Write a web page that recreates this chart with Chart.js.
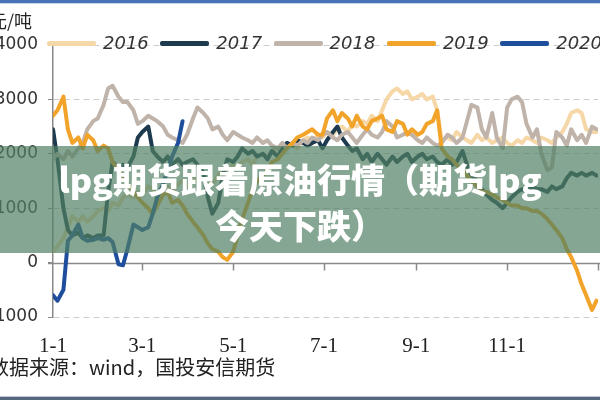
<!DOCTYPE html>
<html><head><meta charset="utf-8">
<script src="https://cdn.jsdelivr.net/npm/chart.js@4.4.1/dist/chart.umd.min.js"></script>
<style>
html,body{margin:0;padding:0;background:#fff;}
#wrap{position:relative;width:600px;height:400px;overflow:hidden;background:#fff;}
#cv{position:absolute;left:-20px;top:0;}
.bar{position:absolute;left:0;width:600px;}
#unit{position:absolute;left:-11px;top:9px;font:18px 'Noto Sans CJK SC';color:#222;line-height:22px;white-space:nowrap;}
.leg{position:absolute;top:31px;height:24px;}
.leg .ln{position:absolute;left:0;top:10px;width:49px;height:5px;border-radius:2px;}
.leg .tx{position:absolute;left:56px;top:0;font:italic 18px 'DejaVu Sans';line-height:24px;color:#333;white-space:nowrap;}
#banner{position:absolute;left:0;top:146px;width:600px;height:107px;background:rgba(80,128,100,0.7);color:#fff;font:900 34px 'Noto Sans CJK SC';line-height:46px;text-align:center;padding-top:10px;box-sizing:border-box;white-space:nowrap;}
#src{position:absolute;left:-11px;top:355px;font:20px 'Noto Sans CJK SC';color:#222;line-height:24px;white-space:nowrap;}
</style></head>
<body>
<div id="wrap">
<canvas id="cv" width="640" height="400"></canvas>
<div class="bar" style="top:0;height:3px;background:#4a72b6"></div>
<div class="bar" style="top:3px;height:1px;background:#c9d6ec"></div>
<div class="bar" style="top:396px;height:1px;background:#c0cad6"></div>
<div class="bar" style="top:397px;height:3px;background:#55687e"></div>
<div id="unit">元/吨</div>
<div id="legend"></div>
<div id="banner">lpg期货跟着原油行情（期货lpg<br>今天下跌）</div>
<div id="src">数据来源：wind，国投安信期货</div>
</div>
<script>
// day of year (leap-year basis) for each sample
const days = [0,3,7,10,13,17,20,23,27,30,
34,37,40,44,47,50,54,57,60,64,
67,70,74,77,80,84,87,90,94,97,
101,104,107,111,114,117,121,124,127,131,
134,137,141,144,147,151,154,157,161,164,
168,171,174,178,181,184,188,191,194,198,
201,204,208,211,214,218,221,224,228,231,
235,238,241,245,248,251,255,258,261,265,
268,271,275,278,281,285,288,291,295,298,
302,305,308,312,315,318,322,325,328,332,
335,338,342,345,348,352,355,358,362,365];

const seriesNames = ['2016','2017','2018','2019','2020'];

const v2016 = [200,300,450,650,850,750,850,750,850,950,
1000,950,1100,1050,1200,1250,1200,1300,1250,1400,
1350,1250,1350,1400,1300,1450,1500,1400,1550,1500,
1600,1500,1450,1600,1700,1650,1800,1750,1850,1900,
1800,1950,2000,1900,2050,2100,2000,2150,2200,2100,
2250,2300,2200,2350,2300,2400,2350,2450,2500,2400,
2550,2500,2600,2550,2700,2600,2800,3000,3150,3200,
3100,3150,3000,3050,3100,3000,3050,2800,2250,2300,
2250,2400,2300,2250,2200,2350,2250,2300,2200,2250,
2300,2200,2150,2250,2200,2300,2250,2200,2300,2250,
2200,2300,2400,2550,2750,2800,2750,2450,2400,2400];

const v2017 = [2450,1900,1000,600,500,550,450,500,450,500,
500,1300,1850,1750,1800,1750,1950,2300,2400,2500,
2050,1950,1850,1950,1800,1900,1800,1850,1900,1800,
1650,1200,900,1100,1600,1900,1850,1950,2100,2000,
2050,1950,2000,1900,2050,1950,2100,2200,2150,2250,
2200,2150,2200,2250,2100,2250,2400,2500,2300,2150,
2050,2100,1900,2000,1850,2000,1900,1800,1950,1850,
1950,2000,1850,1950,2000,1900,1950,1850,1800,1900,
1800,1850,2050,1800,1600,1500,1350,1250,1150,1100,
1000,1100,1200,1300,1350,1300,1400,1350,1350,1300,
1400,1350,1400,1550,1650,1600,1650,1600,1650,1600];

const v2018 = [1900,2000,1900,2050,1950,2100,2200,2450,2600,2650,
2900,3200,3250,3050,2950,2950,2800,2550,2600,2700,
2650,2600,2500,2350,2300,2250,2200,2350,2650,2850,
2750,2650,2450,2500,2350,2250,2400,2350,2300,2250,
2200,2300,2200,2250,2150,2100,2200,2100,2200,2150,
2250,2200,2300,2250,2350,2400,2300,2250,2350,2400,
2300,2200,2350,2450,2350,2300,2400,2600,2500,2300,
2350,2400,2350,2250,2200,2300,2200,2150,2200,2350,
2300,2200,2300,2600,2900,2850,2450,2300,2750,2300,
2100,2850,3000,3050,2950,2550,2300,2450,2000,1700,
1750,2400,2300,2150,2450,2250,2350,2200,2500,2450];

const v2019 = [2700,2800,3050,2450,2200,2300,2100,2350,2250,2050,
2150,2100,1850,1700,1550,1450,1300,1200,1100,1000,
900,1050,1250,1300,1100,1150,1050,900,750,650,
500,350,250,200,100,50,200,500,800,1100,
1350,1500,1600,1700,1850,1900,2000,2100,2200,2300,
2350,2400,2450,2350,2350,2650,2800,2600,2750,2650,
2500,2700,2500,2450,2600,2650,2700,2450,2400,2600,
2550,2350,2450,2350,2400,2550,2600,2800,2100,1950,
1900,1800,1700,1600,1500,1400,1300,1300,1250,1200,
1150,1100,1050,1050,1000,1000,950,950,900,800,
700,600,450,250,100,-150,-400,-600,-870,-700];

const v2020 = [-600,-700,-500,400,500,700,450,400,420,450,
420,450,380,-30,-50,250,700,650,600,650,
900,1200,1450,1700,1950,2200,2600];

const tickDays = [0,60,121,182,244,305,366];
const tickLabels = ['1-1','3-1','5-1','7-1','9-1','11-1',''];
const yTicks = [-1000,0,1000,2000,3000,4000];

const colors = ['#f6d8a8','#1d3a4e','#bfb3aa','#f2a32a','#1f4f9c'];
const values = [v2016,v2017,v2018,v2019,v2020];

// legend
const lg = document.getElementById('legend');
seriesNames.forEach((n,i)=>{
  const d = document.createElement('div');
  d.className='leg';
  d.style.left = (47 + i*113.3) + 'px';
  d.innerHTML = '<div class="ln" style="background:'+colors[i]+'"></div><div class="tx">'+n+'</div>';
  lg.appendChild(d);
});

const zeroLine = {
  id:'zeroLine',
  beforeDatasetsDraw(chart){
    const {ctx, chartArea:a, scales:{x,y}} = chart;
    const y0 = Math.round(y.getPixelForValue(0))+0.5;
    ctx.save();
    ctx.strokeStyle='#8a8a8a'; ctx.lineWidth=1.5;
    ctx.beginPath();
    ctx.moveTo(a.left-5,y0); ctx.lineTo(a.right+4,y0);
    tickDays.forEach((d,i)=>{ if(i===0) return; const px=Math.round(x.getPixelForValue(d))+0.5; ctx.moveTo(px,y0); ctx.lineTo(px,y0+7); });
    ctx.stroke();
    ctx.restore();
  }
};

new Chart(document.getElementById('cv'), {
  type:'line',
  data:{
    datasets: seriesNames.map((n,i)=>({
      label:n,
      data: values[i].map((v,j)=>({x:days[j], y:v})),
      borderColor: colors[i],
      backgroundColor: colors[i],
      borderWidth: 4,
      pointRadius: 0,
      tension: 0,
      fill: false,
      borderJoinStyle:'round',
      borderCapStyle:'round',
      order: 5-i
    }))
  },
  options:{
    responsive:false,
    devicePixelRatio:1,
    animation:false,
    layout:{padding:{top:45,right:22,bottom:0,left:0}},
    plugins:{legend:{display:false}, tooltip:{enabled:false}},
    scales:{
      x:{type:'linear', min:0, max:366,
        grid:{display:false, drawTicks:false}, border:{display:false},
        afterBuildTicks: s => { s.ticks = tickDays.map(v=>({value:v})); },
        afterFit: s => { s.height = 83; },
        ticks:{autoSkip:false, maxRotation:0, padding:17, color:'#222',
          font:{family:'Liberation Serif', size:21},
          callback:(v,i)=> tickLabels[i] || ''}
      },
      y:{min:-1000, max:4000,
        afterBuildTicks: s => { s.ticks = yTicks.map(v=>({value:v})); },
        afterFit: s => { s.width = 73; },
        ticks:{color:'#333', padding:10, font:{family:'DejaVu Sans', size:17}, callback:v=>String(v)},
        grid:{color: c => (c.tick && c.tick.value===0) ? 'rgba(0,0,0,0)' : '#cdcdcd', lineWidth:1, tickLength:5, tickColor:'#8a8a8a', drawTicks:true},
        border:{display:true, color:'#8a8a8a', width:1.5, dash:[6,4]}
      }
    }
  },
  plugins:[zeroLine]
});
</script>
</body></html>
